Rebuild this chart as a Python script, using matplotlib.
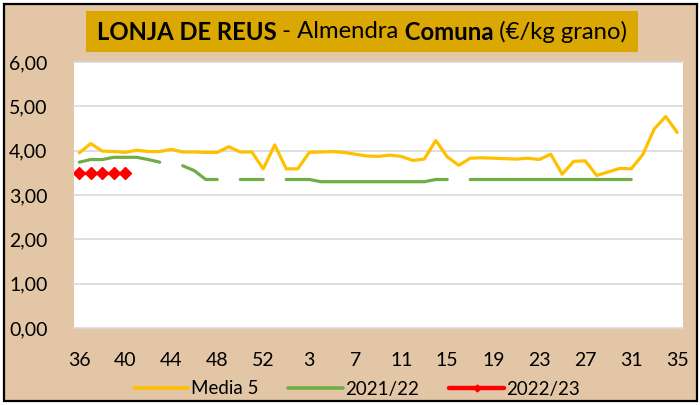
import numpy as np
import matplotlib
matplotlib.use("Agg")
import matplotlib.pyplot as plt
from matplotlib.patches import Rectangle
from matplotlib.lines import Line2D

plt.rcParams["font.family"] = ["Lato", "DejaVu Sans"]

# weeks of the campaign (36..53, 1..35)
WEEKS = list(range(36, 54)) + list(range(1, 36))

MEDIA5 = [3.95, 4.16, 3.99, 3.98, 3.96, 4.01, 3.98, 3.98, 4.03, 3.97,
          3.97, 3.96, 3.96, 4.09, 3.97, 3.97, 3.59, 4.13, 3.59, 3.59,
          3.96, 3.97, 3.98, 3.96, 3.92, 3.88, 3.87, 3.90, 3.87, 3.78,
          3.81, 4.23, 3.86, 3.67, 3.83, 3.84, 3.83, 3.82, 3.81, 3.83,
          3.80, 3.92, 3.47, 3.76, 3.77, 3.44, 3.52, 3.60, 3.59, 3.91,
          4.49, 4.77, 4.41]

nan = np.nan
S2122 = [3.74, 3.80, 3.80, 3.85, 3.85, 3.85, 3.80, 3.74, nan, 3.66,
         3.55, 3.35, 3.35, nan, 3.35, 3.35, 3.35, nan, 3.35, 3.35,
         3.35, 3.30, 3.30, 3.30, 3.30, 3.30, 3.30, 3.30, 3.30, 3.30,
         3.30, 3.35, 3.35, nan, 3.35, 3.35, 3.35, 3.35, 3.35, 3.35,
         3.35, 3.35, 3.35, 3.35, 3.35, 3.35, 3.35, 3.35, 3.35, nan,
         nan, nan, nan]

S2223 = [3.50, 3.50, 3.50, 3.50, 3.50] + [nan] * 48

YTICKS = [0, 1, 2, 3, 4, 5, 6]

C_BG = "#E2C6A6"
C_TITLE = "#DAA800"
C_GRID = "#D9D9D9"
C_Y = "#FFC000"
C_G = "#70AD47"
C_R = "#FF0000"

W, H = 700, 405
fig = plt.figure(figsize=(7.0, 4.05), dpi=100, facecolor="white")

# tan background with black frame
fig.patches.append(Rectangle((4 / W, 1 - 401 / H), 693 / W, 397 / H,
                             transform=fig.transFigure, facecolor=C_BG,
                             edgecolor="black", lw=1.6, zorder=-10))
# title box
fig.patches.append(Rectangle((86 / W, 1 - 52 / H), 552 / W, 41 / H,
                             transform=fig.transFigure, facecolor=C_TITLE,
                             edgecolor="none", zorder=-5))

ax = fig.add_axes([73.5 / W, 1 - 328 / H, (683 - 73.5) / W, (328 - 62) / H])
ax.set_facecolor("white")

x = np.arange(len(WEEKS))
ax.plot(x, MEDIA5, color=C_Y, lw=2.3, solid_joinstyle="round",
        solid_capstyle="round", zorder=3)
ax.plot(x, S2122, color=C_G, lw=2.3, solid_joinstyle="round",
        solid_capstyle="round", zorder=3)
ax.plot(x, S2223, color=C_R, lw=2.3, marker="D", ms=6.4, mew=1,
        mec=C_R, mfc=C_R, zorder=4)

ax.set_xlim(-0.5, len(WEEKS) - 0.5)
ax.set_ylim(0, 6)
ax.set_yticks(YTICKS)
ax.set_yticklabels([f"{v:.2f}".replace(".", ",") for v in YTICKS],
                   ha="left", fontsize=14)
ax.tick_params(axis="y", length=0, pad=(73.5 - 9) * 0.72)
tick_idx = list(range(0, len(WEEKS), 4))
ax.set_xticks(tick_idx)
ax.set_xticklabels([str(WEEKS[i]) for i in tick_idx], fontsize=14)
ax.tick_params(axis="x", length=0, pad=17)
for v in YTICKS:
    ax.axhline(v, color=C_GRID, lw=1.2, zorder=1, clip_on=False)
for s in ax.spines.values():
    s.set_visible(False)

handles = [
    Line2D([], [], color=C_Y, lw=2.6, solid_capstyle="round"),
    Line2D([], [], color=C_G, lw=2.6, solid_capstyle="round"),
    Line2D([], [], color=C_R, lw=3.2, marker="D", ms=3.5, mfc=C_R, mec=C_R,
           solid_capstyle="round"),
]
fig.legend(handles, ["Media 5", "2021/22", "2022/23"], loc="center",
           bbox_to_anchor=(357 / W, 1 - 389 / H), ncol=3, numpoints=1,
           frameon=False, fontsize=13.5, handlelength=2.9, handletextpad=0.15,
           columnspacing=1.6, borderaxespad=0)

# title: mixed bold / regular pieces, centred in the box
TITLE_PARTS = [("LONJA DE REUS", "bold"), (" - Almendra", "normal"),
               (" Comuna", "bold"), (" (€/kg grano)", "normal")]
ty = 1 - 32 / H
fs = 16
parts = [fig.text(0, ty, s, fontsize=fs, fontweight=w, va="center",
                  ha="left", color="black") for s, w in TITLE_PARTS]
r = fig.canvas.get_renderer()
total = sum(p.get_window_extent(r).width for p in parts)
scale = 533 / total
for p in parts:
    p.set_fontsize(fs * scale)
widths = [p.get_window_extent(r).width for p in parts]
xs = 362 - sum(widths) / 2
for p, w in zip(parts, widths):
    p.set_x(xs / W)
    xs += w

fig.savefig("out.png", dpi=100, facecolor="white")
